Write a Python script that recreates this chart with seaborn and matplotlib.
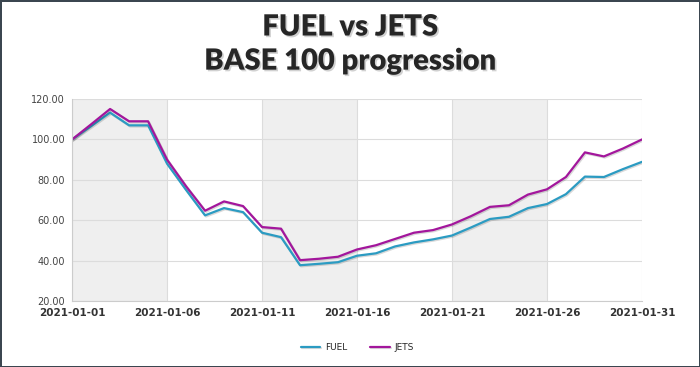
"""FUEL vs JETS base-100 progression chart, January 2021."""

import matplotlib.dates as mdates
import matplotlib.patheffects as pe
import matplotlib.pyplot as plt
import pandas as pd
import seaborn as sns

# Values (one point per day)
dates = pd.date_range("2021-01-01", "2021-01-31", freq="D")
fuel = [100.0, 106.6, 113.3, 107.0, 107.0, 88.0, 75.0, 62.4, 66.0, 64.0,
        53.8, 51.6, 37.7, 38.4, 39.2, 42.4, 43.6, 47.0, 49.0, 50.5,
        52.4, 56.4, 60.6, 61.7, 66.0, 68.0, 72.9, 81.6, 81.4, 85.3, 88.9]
jets = [100.0, 107.5, 115.1, 109.0, 109.0, 90.0, 76.8, 64.7, 69.3, 67.0,
        56.6, 55.8, 40.2, 40.9, 41.9, 45.5, 47.6, 50.7, 53.8, 55.1,
        57.9, 62.0, 66.6, 67.4, 72.7, 75.3, 81.4, 93.6, 91.6, 95.5, 100.0]
series_names = ["FUEL", "JETS"]
y_ticks = [20, 40, 60, 80, 100, 120]
x_ticks = pd.to_datetime(["2021-01-01", "2021-01-06", "2021-01-11", "2021-01-16",
                          "2021-01-21", "2021-01-26", "2021-01-31"])

df = pd.DataFrame({"date": list(dates) * 2,
                   "value": fuel + jets,
                   "series": [series_names[0]] * len(fuel) + [series_names[1]] * len(jets)})

sns.set_style("white")
plt.rcParams["font.family"] = ["DejaVu Sans"]

fig = plt.figure(figsize=(7.0, 3.67), dpi=100)
fig.patch.set_facecolor("white")
fig.patch.set_edgecolor("#3b4650")
fig.patch.set_linewidth(2)
ax = fig.add_axes([0.103, 0.180, 0.814, 0.550])

# alternating shaded bands between the x ticks
for i in range(0, len(x_ticks) - 1, 2):
    ax.axvspan(x_ticks[i], x_ticks[i + 1], color="#efefef", zorder=0, lw=0)

palette = {"FUEL": "#2b9bc2", "JETS": "#a3169c"}
sns.lineplot(data=df, x="date", y="value", hue="series", palette=palette,
             linewidth=1.6, ax=ax, legend=True,
             path_effects=[pe.SimpleLineShadow(offset=(0.8, -0.8), alpha=0.15), pe.Normal()])

ax.set_xlim(x_ticks[0], x_ticks[-1])
ax.set_ylim(20, 120)
ax.set_yticks(y_ticks)
ax.set_yticklabels([f"{v:.2f}" for v in y_ticks], fontsize=7, color="#444444")
ax.set_xticks(x_ticks)
ax.xaxis.set_major_formatter(mdates.DateFormatter("%Y-%m-%d"))
for lbl in ax.get_xticklabels():
    lbl.set_fontsize(7.5)
    lbl.set_fontweight("bold")
    lbl.set_color("#333333")
ax.tick_params(axis="both", length=4, width=1, color="#555555", pad=1)
ax.tick_params(axis="x", direction="out", length=3, pad=2)
ax.grid(True, color="#dcdcdc", linewidth=0.8)
ax.set_axisbelow(True)
ax.set_xlabel("")
ax.set_ylabel("")
for side in ["top", "right"]:
    ax.spines[side].set_visible(False)
for side in ["left", "bottom"]:
    ax.spines[side].set_color("#cccccc")
    ax.spines[side].set_linewidth(0.8)

handles, labels = ax.get_legend_handles_labels()
ax.legend(handles, labels, loc="center", bbox_to_anchor=(0.5, -0.23), ncol=2,
          frameon=False, fontsize=6.5, handlelength=2.2, columnspacing=2.5,
          handletextpad=0.5)

shadow = [pe.withSimplePatchShadow(offset=(1.2, -1.2), shadow_rgbFace="#999999", alpha=0.45)]
fig.text(0.5, 0.925, "FUEL vs JETS", ha="center", va="center", fontsize=21,
         fontweight="heavy", family=["Lato", "DejaVu Sans"], path_effects=shadow)
fig.text(0.5, 0.832, "BASE 100 progression", ha="center", va="center", fontsize=21,
         fontweight="heavy", family=["Lato", "DejaVu Sans"], path_effects=shadow)

fig.savefig("out.png", dpi=100)
